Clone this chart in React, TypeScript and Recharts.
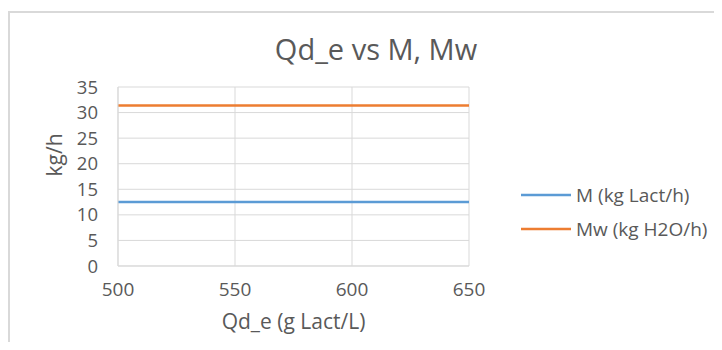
import { CartesianGrid, Line, LineChart, XAxis, YAxis } from "recharts";

const QD_E = [500, 550, 600, 650];
const M = [12.5, 12.5, 12.5, 12.5];
const MW = [31.4, 31.4, 31.4, 31.4];
const SERIES_NAMES = ["M (kg Lact/h)", "Mw (kg H2O/h)"];
const SERIES_COLORS = ["#5B9BD5", "#ED7D31"];
const X_TICKS = [500, 550, 600, 650];
const Y_TICKS = [0, 5, 10, 15, 20, 25, 30, 35];

const data = QD_E.map((x, i) => ({ x, m: M[i], mw: MW[i] }));

const FONT = "'Open Sans', sans-serif";
const TEXT = "#595959";

export default function App() {
  return (
    <div style={{ position: "relative", width: 722, height: 350, margin: -8, background: "#fff", overflow: "hidden" }}>
      <div
        style={{
          position: "absolute",
          left: 8,
          top: 11,
          width: 722,
          height: 350,
          borderTop: "2px solid #d9d9d9",
          borderLeft: "2px solid #d9d9d9",
        }}
      />
      <div
        style={{
          position: "absolute",
          left: 276,
          width: 200,
          top: 29,
          textAlign: "center",
          fontFamily: FONT,
          fontSize: 29,
          lineHeight: "40px",
          color: TEXT,
          whiteSpace: "nowrap",
          display: "flex",
          justifyContent: "center",
        }}
      >
        Qd_e vs M, Mw
      </div>
      <LineChart
        width={722}
        height={350}
        data={data}
        margin={{ top: 87, right: 253, left: 0, bottom: 0 }}
        style={{ position: "absolute", left: 0, top: 0 }}
      >
        <CartesianGrid stroke="#d9d9d9" strokeWidth={1} />
        <XAxis
          dataKey="x"
          type="number"
          domain={[500, 650]}
          ticks={X_TICKS}
          interval={0}
          height={84}
          stroke="#d9d9d9"
          tickSize={0}
          tickMargin={17}
          tick={{ fill: TEXT, fontSize: 19, fontFamily: FONT }}
          label={{ value: "Qd_e (g Lact/L)", position: "insideTop", offset: 48, fill: TEXT, fontSize: 21, fontFamily: FONT }}
        />
        <YAxis
          type="number"
          domain={[0, 35]}
          ticks={Y_TICKS}
          interval={0}
          width={118}
          stroke="#d9d9d9"
          tickSize={0}
          tickMargin={20}
          tick={{ fill: TEXT, fontSize: 18.5, fontFamily: FONT }}
          label={{ value: "kg/h", angle: -90, position: "insideLeft", offset: 55, fill: TEXT, fontSize: 21, fontFamily: FONT }}
        />
        <Line dataKey="m" name={SERIES_NAMES[0]} stroke={SERIES_COLORS[0]} strokeWidth={2.5} dot={false} isAnimationActive={false} />
        <Line dataKey="mw" name={SERIES_NAMES[1]} stroke={SERIES_COLORS[1]} strokeWidth={2.5} dot={false} isAnimationActive={false} />
      </LineChart>
      <div style={{ position: "absolute", left: 521, top: 178, fontFamily: FONT, fontSize: 19, color: TEXT }}>
        {SERIES_NAMES.map((name, i) => (
          <div key={name} style={{ display: "flex", alignItems: "center", height: 34, whiteSpace: "nowrap" }}>
            <svg width={50} height={6} style={{ marginRight: 5 }}>
              <line x1={0} y1={3} x2={50} y2={3} stroke={SERIES_COLORS[i]} strokeWidth={2.5} />
            </svg>
            <span>{name}</span>
          </div>
        ))}
      </div>
    </div>
  );
}
